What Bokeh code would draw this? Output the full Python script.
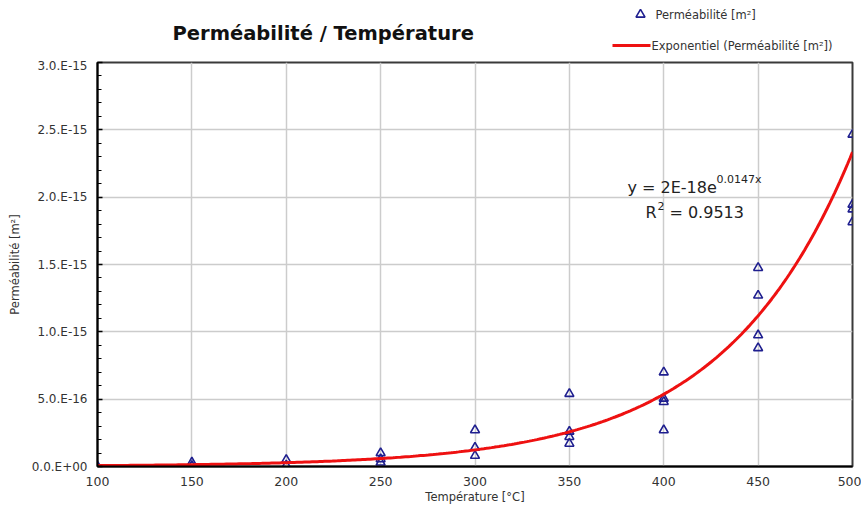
import numpy as np
from bokeh.plotting import figure
from bokeh.layouts import column
from bokeh.models import FixedTicker, Label
from bokeh.core.properties import value
from bokeh.embed import file_html
from bokeh.resources import INLINE

# ---- data ----
TEMP = [100,
        150, 150,
        200, 200,
        250, 250, 250,
        300, 300, 300,
        350, 350, 350, 350,
        400, 400, 400, 400,
        450, 450, 450, 450,
        500, 500, 500, 500]
PERM = [0.001e-15,
        0.030e-15, 0.005e-15,
        0.050e-15, 0.008e-15,
        0.100e-15, 0.055e-15, 0.030e-15,
        0.270e-15, 0.140e-15, 0.080e-15,
        0.540e-15, 0.260e-15, 0.220e-15, 0.170e-15,
        0.700e-15, 0.505e-15, 0.480e-15, 0.270e-15,
        1.475e-15, 1.270e-15, 0.975e-15, 0.880e-15,
        2.465e-15, 1.945e-15, 1.910e-15, 1.815e-15]

X_TICKS = [100, 150, 200, 250, 300, 350, 400, 450, 500]
Y_TICKS = [0.0, 0.5e-15, 1.0e-15, 1.5e-15, 2.0e-15, 2.5e-15, 3.0e-15]
Y_TICK_LABELS = ["0.0.E+00", "5.0.E-16", "1.0.E-15", "1.5.E-15",
                 "2.0.E-15", "2.5.E-15", "3.0.E-15"]

# exponential trend y = A * exp(B * x)
TREND_A = 1.5e-18
TREND_B = 0.0147
TREND_RANGE = (100, 500)

TITLE = "Perméabilité / Température"
X_LABEL = "Température [°C]"
Y_LABEL = "Perméabilité [m²]"
LEG_POINTS = "Perméabilité [m²]"
LEG_TREND = "Exponentiel (Perméabilité [m²])"
EQ_MAIN = "y = 2E-18e"
EQ_EXP = "0.0147x"
R2_VALUE = "0.9513"

UNIT = 1e-15  # plotting unit for y
FONT = "DejaVu Sans"
W = 861
H_HEAD = 58
H_MAIN = 457
BORDER_L = 97
BORDER_R = 9

POINT_COLOR = "#1f1f8f"
TREND_COLOR = "#ee1111"

y_pts = np.array(PERM) / UNIT
y_ticks = [round(t / UNIT, 2) for t in Y_TICKS]
tx = np.linspace(TREND_RANGE[0], TREND_RANGE[1], 300)
ty = TREND_A * np.exp(TREND_B * tx) / UNIT

# ---------- header: title + legend (frame aligned with the chart's frame) ----------
head = figure(width=W, height=H_HEAD, x_range=(BORDER_L, W - BORDER_R),
              y_range=(H_HEAD, 0),
              output_backend="svg", toolbar_location=None,
              x_axis_type=None, y_axis_type=None,
              min_border_left=BORDER_L, min_border_right=BORDER_R,
              min_border_top=0, min_border_bottom=0)
head.outline_line_color = None
head.grid.visible = False
head.text(x=[172], y=[33], text=[TITLE], text_font=value(FONT),
          text_font_size="19.5px", text_font_style="bold",
          text_color="#111111", text_baseline="alphabetic")
head.scatter(x=[640], y=[14], marker="triangle", size=9, fill_color=None,
             line_color=POINT_COLOR, line_width=1.6)
head.text(x=[655], y=[14], text=[LEG_POINTS], text_font=value(FONT),
          text_font_size="11.5px", text_color="#333333", text_baseline="middle")
head.line(x=[612, 650], y=[45, 45], line_color=TREND_COLOR, line_width=3)
head.text(x=[651], y=[45], text=[LEG_TREND], text_font=value(FONT),
          text_font_size="11.5px", text_color="#333333", text_baseline="middle")

# ---------- main chart ----------
p = figure(width=W, height=H_MAIN, x_range=(100, 500), y_range=(0, 3),
           output_backend="svg", toolbar_location=None,
           min_border_left=BORDER_L, min_border_right=BORDER_R,
           min_border_top=4, min_border_bottom=49)

p.background_fill_color = "white"
p.border_fill_color = "white"
p.outline_line_color = "#3a3a3a"
p.outline_line_width = 2

# axes
p.xaxis.ticker = FixedTicker(ticks=X_TICKS)
p.yaxis.ticker = FixedTicker(ticks=y_ticks,
                             minor_ticks=[round(v, 2) for v in np.arange(0, 3.01, 0.1)])
p.yaxis.major_label_overrides = {t: lab for t, lab in zip(y_ticks, Y_TICK_LABELS)}

for ax in (p.xaxis, p.yaxis):
    ax.axis_line_color = "black"
    ax.axis_line_width = 2
    ax.major_label_text_font = FONT
    ax.major_label_text_color = "#333333"
    ax.axis_label_text_font = FONT
    ax.axis_label_text_font_style = "normal"
    ax.axis_label_text_color = "#333333"
    ax.axis_label_text_font_size = "11.5px"

p.xaxis.axis_label = X_LABEL
p.yaxis.axis_label = Y_LABEL
p.xaxis.major_label_text_font_size = "12.5px"
p.yaxis.major_label_text_font_size = "12px"
p.xaxis.major_tick_line_color = None
p.xaxis.minor_tick_line_color = None
p.xaxis.major_label_standoff = 4
p.xaxis.axis_label_standoff = 1
p.yaxis.major_tick_in = 5
p.yaxis.major_tick_out = 0
p.yaxis.minor_tick_in = 4
p.yaxis.minor_tick_out = 0
p.yaxis.major_tick_line_color = "black"
p.yaxis.minor_tick_line_color = "black"
p.yaxis.major_tick_line_width = 1.5
p.yaxis.major_label_standoff = 10
p.yaxis.axis_label_standoff = 7

# grid
p.xgrid.ticker = FixedTicker(ticks=X_TICKS)
for g in (p.xgrid, p.ygrid):
    g.grid_line_color = "#cccccc"
    g.grid_line_width = 1.5

# data
p.scatter(TEMP, y_pts, marker="triangle", size=9, fill_color=None,
          line_color=POINT_COLOR, line_width=1.6)
p.line(tx, ty, line_color=TREND_COLOR, line_width=3)

# equation text
common = dict(text_font=FONT, text_color="#222222", text_baseline="alphabetic")
p.add_layout(Label(x=380.8, y=2.07, text=EQ_MAIN, text_font_size="16px", **common))
p.add_layout(Label(x=380.8, y=2.07, x_offset=89, y_offset=8, text=EQ_EXP,
                   text_font_size="11px", **common))
p.add_layout(Label(x=390.3, y=1.885, text="R", text_font_size="16px", **common))
p.add_layout(Label(x=390.3, y=1.885, x_offset=12, y_offset=7, text="2",
                   text_font_size="11px", **common))
p.add_layout(Label(x=390.3, y=1.885, x_offset=24, text="= " + R2_VALUE,
                   text_font_size="16px", **common))

layout = column(head, p, spacing=0)
open("out.html", "w").write(file_html(layout, INLINE))
